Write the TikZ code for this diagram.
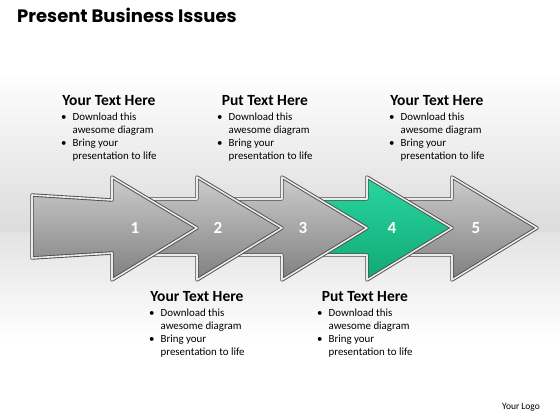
\documentclass[tikz,border=0pt]{standalone}
\usepackage{fontspec}
\setmainfont{Carlito}
\newfontfamily\titlefont{Poppins}
\usetikzlibrary{positioning}
\definecolor{greentop}{RGB}{40,214,158}
\definecolor{greenbot}{RGB}{18,168,118}
\newcommand{\bulletlist}{{\fontsize{10.9}{13}\selectfont
 \begin{tabular}{@{}l@{\hspace{6pt}}l@{}}
 \textbullet & Download this\\
  & awesome diagram\\
 \textbullet & Bring your\\
  & presentation to life
 \end{tabular}}}

\begin{document}
\begin{tikzpicture}[x=1pt,y=-1pt,
  metal/.style={draw=black!70,double=black!8,double distance=1.6pt,line width=0.9pt,line join=round},
  grayarrow/.style={metal,top color=black!20,bottom color=black!50},
  greenarrow/.style={metal,top color=greentop,bottom color=greenbot},
  num/.style={text=white,font=\fontsize{17}{17}\selectfont\bfseries},
  head/.style={font=\fontsize{15.5}{17}\selectfont\bfseries,inner sep=1pt},
  listbox/.style={anchor=north west,inner sep=0pt}]
 \useasboundingbox (0,0) rectangle (560,420);
 % background
 \fill[white] (0,0) rectangle (560,420);
 \shade[top color=white,bottom color=black!14] (0,70) rectangle (560,232);
 \shade[top color=black!11,bottom color=white] (0,232) rectangle (560,340);
 \node[anchor=west,inner sep=0pt,font=\titlefont\bfseries\fontsize{18}{21}\selectfont] (title) at (17,15) {Present Business Issues};
 % arrows, back to front
 \path[grayarrow] (387,199)--(452,199)--(452,177)--(537,228)--(452,280)--(452,255)--(387,255)--cycle;
 \path[greenarrow] (302,199)--(367,199)--(367,177)--(452,228)--(367,280)--(367,255)--(302,255)--cycle;
 \path[grayarrow] (217,199)--(282,199)--(282,177)--(367,228)--(282,280)--(282,255)--(217,255)--cycle;
 \path[grayarrow] (132,199)--(197,199)--(197,177)--(282,228)--(197,280)--(197,255)--(132,255)--cycle;
 \path[grayarrow] (32,195)--(112,200)--(112,177)--(197,228)--(112,280)--(112,253)--(32,258)--cycle;
 \node[num] (n1) at (135,228) {1};
 \node[num] (n2) at (218,228) {2};
 \node[num] (n3) at (303,228) {3};
 \node[num] (n4) at (392,228) {4};
 \node[num] (n5) at (476,228) {5};
 % text blocks
 \node[listbox] (l1) at (61,111) {\bulletlist};
 \node[head,above=4pt of l1] (h1) {Your Text Here};
 \node[listbox] (l2) at (217,111) {\bulletlist};
 \node[head,above=4pt of l2] (h2) {Put Text Here};
 \node[listbox] (l3) at (389,111) {\bulletlist};
 \node[head,above=4pt of l3] (h3) {Your Text Here};
 \node[listbox] (l4) at (149,307) {\bulletlist};
 \node[head,above=4pt of l4] (h4) {Your Text Here};
 \node[listbox] (l5) at (317,307) {\bulletlist};
 \node[head,above=4pt of l5] (h5) {Put Text Here};
 \node[font=\fontsize{9.5}{11}\selectfont] (logo) at (521,407) {Your Logo};
\end{tikzpicture}
\end{document}
